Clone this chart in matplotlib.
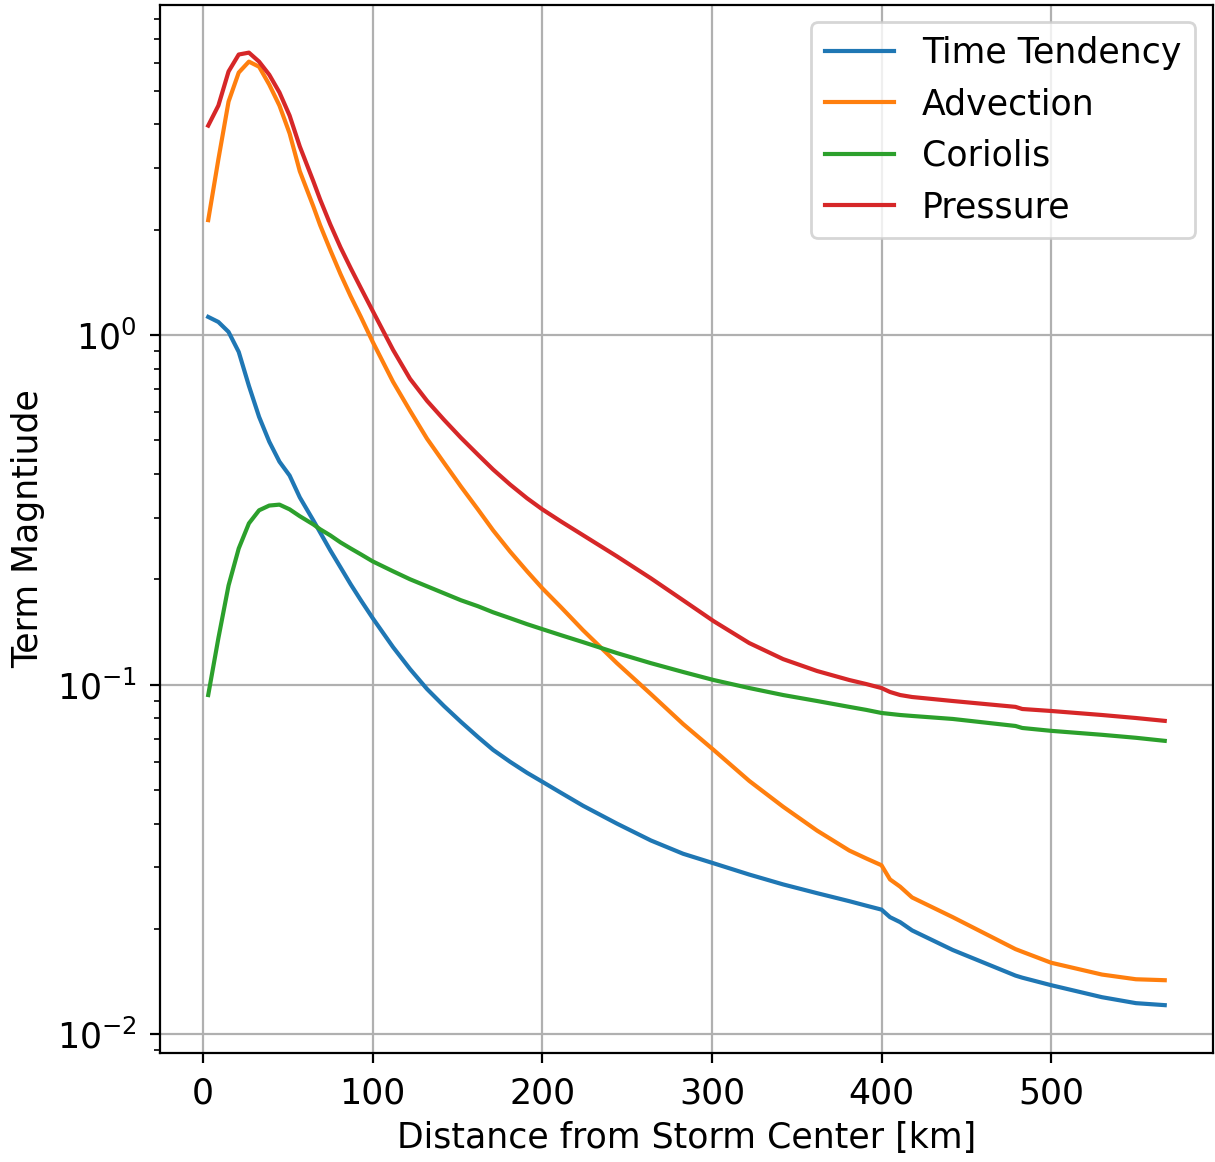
import numpy as np
import matplotlib
matplotlib.use('Agg')
import matplotlib.pyplot as plt

# distancia al centro de la tormenta [km]
dist = [3, 9, 15, 21, 27, 33, 39, 45, 51, 57,
        65, 69, 75, 81, 87, 93, 100,
        112, 122, 132, 142, 152, 162, 171, 181, 191, 200,
        211, 224, 244, 264, 283, 301, 322, 342, 362, 381, 391,
        400, 405, 411, 418, 442, 479, 483, 500, 530, 550, 567]

time_tend = [1.126, 1.089, 1.02, 0.894, 0.715, 0.583, 0.495, 0.434, 0.396, 0.343,
             0.2946, 0.2723, 0.2419, 0.2164, 0.1935, 0.1742, 0.1548,
             0.1279, 0.1107, 0.0971, 0.0868, 0.0782, 0.0708, 0.0650, 0.0601, 0.0559, 0.0527,
             0.0490, 0.0450, 0.0400, 0.0358, 0.0328, 0.0308, 0.0286, 0.0268, 0.0253, 0.0240, 0.0233,
             0.0227, 0.0216, 0.0209, 0.0198, 0.0174, 0.0147, 0.0145, 0.0138, 0.01275, 0.01226, 0.01210]

advection = [2.13, 3.18, 4.65, 5.63, 6.05, 5.85, 5.20, 4.53, 3.77, 2.94,
             2.33, 2.06, 1.748, 1.493, 1.29, 1.126, 0.955,
             0.734, 0.607, 0.505, 0.431, 0.3684, 0.317, 0.276, 0.240, 0.2108, 0.1885,
             0.1664, 0.143, 0.1151, 0.0939, 0.0771, 0.0650, 0.0530, 0.0447, 0.0382, 0.0335, 0.0318,
             0.0304, 0.0277, 0.0264, 0.0246, 0.0216, 0.0175, 0.0172, 0.0160, 0.0148, 0.01435, 0.01426]

coriolis = [0.0933, 0.1357, 0.192, 0.245, 0.289, 0.315, 0.325, 0.327, 0.317, 0.303,
            0.287, 0.278, 0.267, 0.255, 0.245, 0.2357, 0.225,
            0.2108, 0.200, 0.191, 0.1824, 0.1742, 0.1675, 0.1609, 0.1548, 0.1488, 0.1440,
            0.1384, 0.1322, 0.1230, 0.1151, 0.1086, 0.1030, 0.0977, 0.0933, 0.0897, 0.0863, 0.0846,
            0.0829, 0.0824, 0.0818, 0.0813, 0.0797, 0.0761, 0.0751, 0.0737, 0.0718, 0.0704, 0.0690]

pressure = [3.97, 4.53, 5.67, 6.34, 6.42, 6.05, 5.55, 4.94, 4.24, 3.46,
            2.75, 2.44, 2.07, 1.78, 1.553, 1.362, 1.171,
            0.906, 0.749, 0.648, 0.572, 0.508, 0.4546, 0.412, 0.3733, 0.341, 0.317,
            0.2927, 0.2674, 0.2326, 0.2013, 0.1742, 0.1518, 0.1314, 0.1182, 0.1093, 0.1030, 0.1003,
            0.0977, 0.0952, 0.0933, 0.0921, 0.0897, 0.0863, 0.0851, 0.0840, 0.0818, 0.0802, 0.0787]

plt.rcParams['font.size'] = 12.5
plt.rcParams['xtick.major.pad'] = 5
plt.rcParams['ytick.major.pad'] = 5

fig = plt.figure(figsize=(6.075, 5.81), dpi=200)
plt.subplots_adjust(left=0.132, right=0.998, top=0.9957, bottom=0.094)
plt.plot(dist, time_tend, label='Time Tendency')
plt.plot(dist, advection, label='Advection')
plt.plot(dist, coriolis, label='Coriolis')
plt.plot(dist, pressure, label='Pressure')
plt.yscale('log')
plt.grid()
plt.xlabel('Distance from Storm Center [km]')
plt.ylabel('Term Magntiude')
plt.legend(loc='upper right')
plt.savefig('out.png', dpi=200)
